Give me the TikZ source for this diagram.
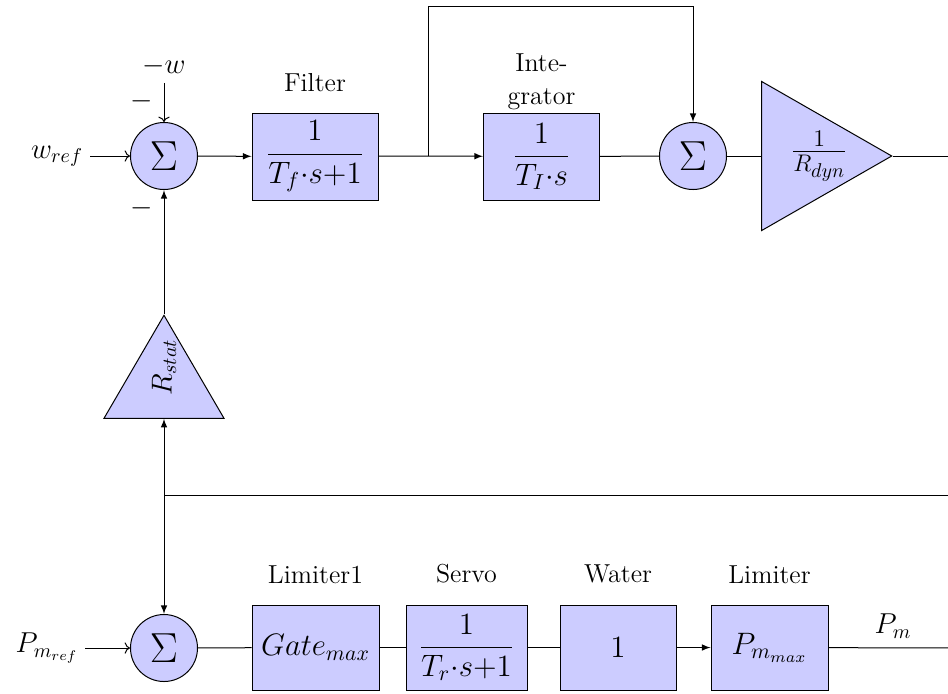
\RequirePackage{fix-cm}
\documentclass[tikz,border=0pt]{standalone}
\usepackage{amsmath}
\usetikzlibrary{arrows.meta,positioning,shapes.geometric,calc}

\begin{document}
\begin{tikzpicture}[x=0.5pt, y=-0.5pt, line width=0.5pt, node distance=7pt, block/.style={draw, fill=blue!20, font=\fontsize{15.5}{19}\selectfont, minimum width=63pt, minimum height=43.5pt, inner sep=2pt}, sumnode/.style={draw, circle, fill=blue!20, minimum size=33.5pt, inner sep=0pt, font=\fontsize{21}{25}\selectfont}, gain/.style={draw, fill=blue!20, isosceles triangle, isosceles triangle stretches, inner sep=0pt}, lbl/.style={font=\fontsize{13}{16.5}\selectfont, align=center}, sig/.style={font=\Large}, arr/.style={-latex}, inarr/.style={->}]
\useasboundingbox (0,0) rectangle (948,693);
\clip (0,0) rectangle (948,693);
% upper branch: speed deviation
\node[sig] (wref) at (57,156) {$w_{ref}$};
\node[sumnode] (s1) at (164,156) {$\Sigma$};
\node[sig] (mw) at (164,66) {$-w$};
\node[sig] (m1) at (142,101) {$-$};
\node[sig] (m2) at (142,208) {$-$};
\node[block] (filt) at (315,156.5) {$\displaystyle\frac{1}{T_f{\cdot}s{+}1}$};
\node[lbl, above=of filt] (filtlab) {Filter};
\node[block, minimum width=58pt] (integ) at (541.5,156.5) {$\displaystyle\frac{1}{T_I{\cdot}s}$};
\node[lbl, above=-2pt of integ] (integlab) {Inte-\\grator};
\node[sumnode] (s2) at (693,156) {$\Sigma$};
\node[gain, minimum height=65pt, minimum width=74.5pt, anchor=apex] (rdyn) at (893,156) {};
\node[font=\LARGE] (rdyntxt) at ($(rdyn.apex)!0.56!(rdyn.lower side)$) {$\frac{1}{R_{dyn}}$};
\node[gain, rotate=90, minimum height=51.5pt, minimum width=60pt, anchor=apex] (rstat) at (164,314) {};
\node[sig, rotate=90] (rstattxt) at ($(rstat.apex)!0.51!(rstat.lower side)$) {$R_{stat}$};
\coordinate (br) at (428,156);
\coordinate (fbtop) at (428,6);
\coordinate (outtop) at (960,156);
\coordinate (jn) at (164,495);
\coordinate (jr) at (960,495);
% lower branch: power
\node[sig] (pmref) at (47,648) {$P_{m_{ref}}$};
\node[sumnode] (s3) at (164,648) {$\Sigma$};
\node[block, minimum width=63.5pt, minimum height=42.5pt] (gate) at (315.5,647.5) {$Gate_{max}$};
\node[lbl, above=of gate] (gatelab) {Limiter1};
\node[block, minimum width=60.5pt, minimum height=42.5pt] (servo) at (466.5,647.5) {$\displaystyle\frac{1}{T_r{\cdot}s{+}1}$};
\node[lbl, above=of servo] (servolab) {Servo};
\node[block, minimum width=58pt, minimum height=42.5pt] (water) at (618,647.5) {$1$};
\node[lbl, above=of water] (waterlab) {Water};
\node[block, minimum width=58.5pt, minimum height=42.5pt] (lim) at (769.5,647.5) {$P_{m_{max}}$};
\node[lbl, above=of lim] (limlab) {Limiter};
\node[sig] (pm) at (893,626) {$P_m$};
\coordinate (outbot) at (960,648);
\draw[inarr] (wref) -- (s1);
\draw[inarr] (mw) -- (s1);
\draw[arr] (s1) -- (filt);
\draw (filt) -- (br);
\draw[arr] (br) -- (integ);
\draw[arr] (br) -- (fbtop) -| (s2);
\draw (integ) -- (s2);
\draw (s2) -- (rdyn.lower side);
\draw (rdyn.apex) -- (outtop);
\draw[arr] (rstat.apex) -- (s1);
\draw (jr) -- (jn);
\draw[arr] (jn) -- (rstat.lower side);
\draw[arr] (jn) -- (s3);
\draw[inarr] (pmref) -- (s3);
\draw (s3) -- (gate);
\draw (gate) -- (servo);
\draw (servo) -- (water);
\draw[arr] (water) -- (lim);
\draw (lim) -- (outbot);
\end{tikzpicture}
\end{document}
